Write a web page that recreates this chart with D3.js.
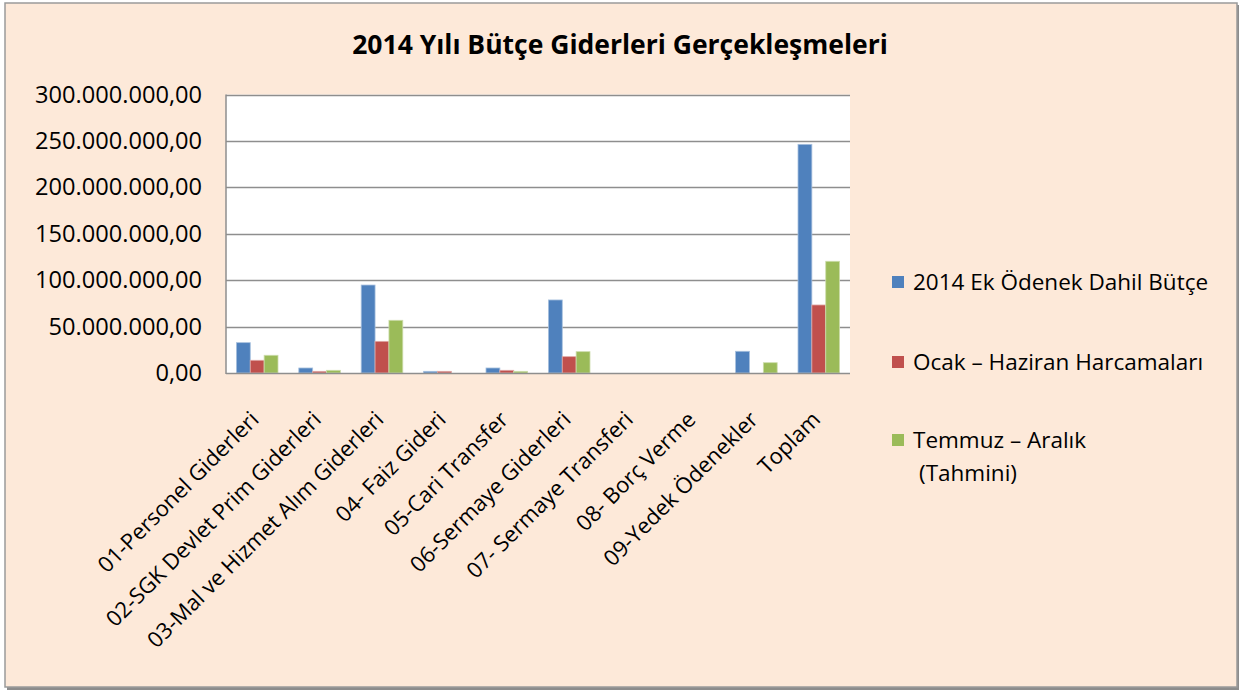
<!DOCTYPE html>
<html>
<head>
<meta charset="utf-8">
<script src="https://cdn.jsdelivr.net/npm/d3@7"></script>
<style>
  body { margin: 0; background: #fff; }
  svg { display: block; font-family: "Open Sans", sans-serif; }
</style>
</head>
<body>
<div id="chart"></div>
<script>
var categories = [
  "01-Personel Giderleri",
  "02-SGK Devlet Prim Giderleri",
  "03-Mal ve Hizmet Alım Giderleri",
  "04- Faiz Gideri",
  "05-Cari Transfer",
  "06-Sermaye Giderleri",
  "07- Sermaye Transferi",
  "08- Borç Verme",
  "09-Yedek Ödenekler",
  "Toplam"
];
var seriesNames = ["2014 Ek Ödenek Dahil Bütçe", "Ocak – Haziran Harcamaları", "Temmuz – Aralık (Tahmini)"];
var butce   = [32700000, 5400000, 94800000, 1800000, 5400000, 78700000, 0, 0, 23400000, 246400000];
var ocak    = [13700000, 1800000, 34100000, 1800000, 2900000, 17600000, 0, 0, 0, 73300000];
var temmuz  = [19100000, 2900000, 56800000, 0, 1800000, 23000000, 0, 0, 11100000, 120400000];
var yTicks  = [0, 50000000, 100000000, 150000000, 200000000, 250000000, 300000000];
var colors  = ["#4F81BD", "#C0504D", "#9BBB59"];
var edges   = ["#A7C0DE", "#DFA8A6", "#CDDDAC"];

var width = 1241, height = 690;
var plotLeft = 226, plotRight = 850, plotTop = 94.6, plotBottom = 373;

var svg = d3.select("#chart").append("svg")
    .attr("width", width)
    .attr("height", height);

// frame with shadow
svg.append("rect").attr("x", 7).attr("y", 5).attr("width", 1232).attr("height", 685).attr("fill", "#8c8c8c");
svg.append("rect")
    .attr("x", 5).attr("y", 3).attr("width", 1232).attr("height", 684)
    .attr("fill", "#FDE9D9")
    .attr("stroke", "#9a9a9a")
    .attr("stroke-width", 1.5);

svg.append("text")
    .attr("x", 620).attr("y", 54)
    .attr("text-anchor", "middle")
    .attr("font-size", 26.5)
    .attr("font-weight", "bold")
    .attr("fill", "#000")
    .text("2014 Yılı Bütçe Giderleri Gerçekleşmeleri");

var x = d3.scaleBand().domain(d3.range(categories.length)).range([plotLeft, plotRight]);
var bw = x.bandwidth() / 4.5;
var y = d3.scaleLinear().domain([0, 300000000]).range([plotBottom, plotTop]);

svg.append("rect")
    .attr("x", plotLeft).attr("y", plotTop)
    .attr("width", plotRight - plotLeft).attr("height", plotBottom - plotTop)
    .attr("fill", "#fff");

var fmt = function(v) {
  return d3.format(",.2f")(v).replace(/,/g, "#").replace(".", ",").replace(/#/g, ".");
};

var yAxis = d3.axisLeft(y).tickValues(yTicks).tickSize(0).tickPadding(24).tickFormat(fmt);
var gy = svg.append("g").attr("transform", "translate(" + plotLeft + ",0)").call(yAxis);
gy.select(".domain").remove();
gy.selectAll("text").attr("font-size", 23.6).attr("fill", "#000").attr("font-family", "Open Sans, sans-serif");

svg.append("g").selectAll("line")
    .data(yTicks.slice(1))
  .enter().append("line")
    .attr("x1", plotLeft).attr("x2", plotRight)
    .attr("y1", function(d) { return Math.round(y(d)) + 0.5; })
    .attr("y2", function(d) { return Math.round(y(d)) + 0.5; })
    .attr("stroke", "#8e8e8e")
    .attr("stroke-width", 1.3);

var series = [butce, ocak, temmuz];
series.forEach(function(vals, s) {
  svg.append("g").selectAll("rect")
      .data(vals)
    .enter().append("rect")
      .attr("x", function(d, i) { return x(i) + bw * (0.75 + s); })
      .attr("y", function(d) { return y(d); })
      .attr("width", bw)
      .attr("height", function(d) { return plotBottom - y(d); })
      .attr("fill", colors[s])
      .attr("stroke", edges[s])
      .attr("stroke-width", 0.8)
      .style("display", function(d) { return d > 0 ? null : "none"; });
});

svg.append("line").attr("x1", plotLeft).attr("x2", plotLeft).attr("y1", plotTop).attr("y2", plotBottom + 1)
    .attr("stroke", "#8e8e8e").attr("stroke-width", 1.5);
svg.append("line").attr("x1", plotLeft).attr("x2", plotRight).attr("y1", plotBottom + 0.5).attr("y2", plotBottom + 0.5)
    .attr("stroke", "#8e8e8e").attr("stroke-width", 1.5);

svg.append("g").selectAll("text")
    .data(categories)
  .enter().append("text")
    .attr("transform", function(d, i) {
      return "translate(" + (x(i) + x.bandwidth() / 2 - 8) + "," + 410 + ")rotate(-45)";
    })
    .attr("text-anchor", "end")
    .attr("dy", "0.7em")
    .attr("font-size", 22)
    .attr("fill", "#000")
    .text(function(d) { return d; });

// legend
var legendY = [282, 362, 440];
var lg = svg.append("g").selectAll("g")
    .data(seriesNames)
  .enter().append("g")
    .attr("transform", function(d, i) { return "translate(892," + legendY[i] + ")"; });
lg.append("rect")
    .attr("x", 0).attr("y", -6).attr("width", 12).attr("height", 12)
    .attr("fill", function(d, i) { return colors[i]; });
lg.append("text")
    .attr("x", 21).attr("dy", "0.35em")
    .attr("font-size", 22.5)
    .attr("fill", "#000")
    .each(function(d) {
      var t = d3.select(this);
      var parts = d.indexOf("(") > 0 ? [d.slice(0, d.indexOf("(") - 1), d.slice(d.indexOf("("))] : [d];
      parts.forEach(function(p, k) {
        t.append("tspan").attr("x", k ? 27 : 21).attr("dy", k ? "1.45em" : null).text(p);
      });
    });
</script>
</body>
</html>
